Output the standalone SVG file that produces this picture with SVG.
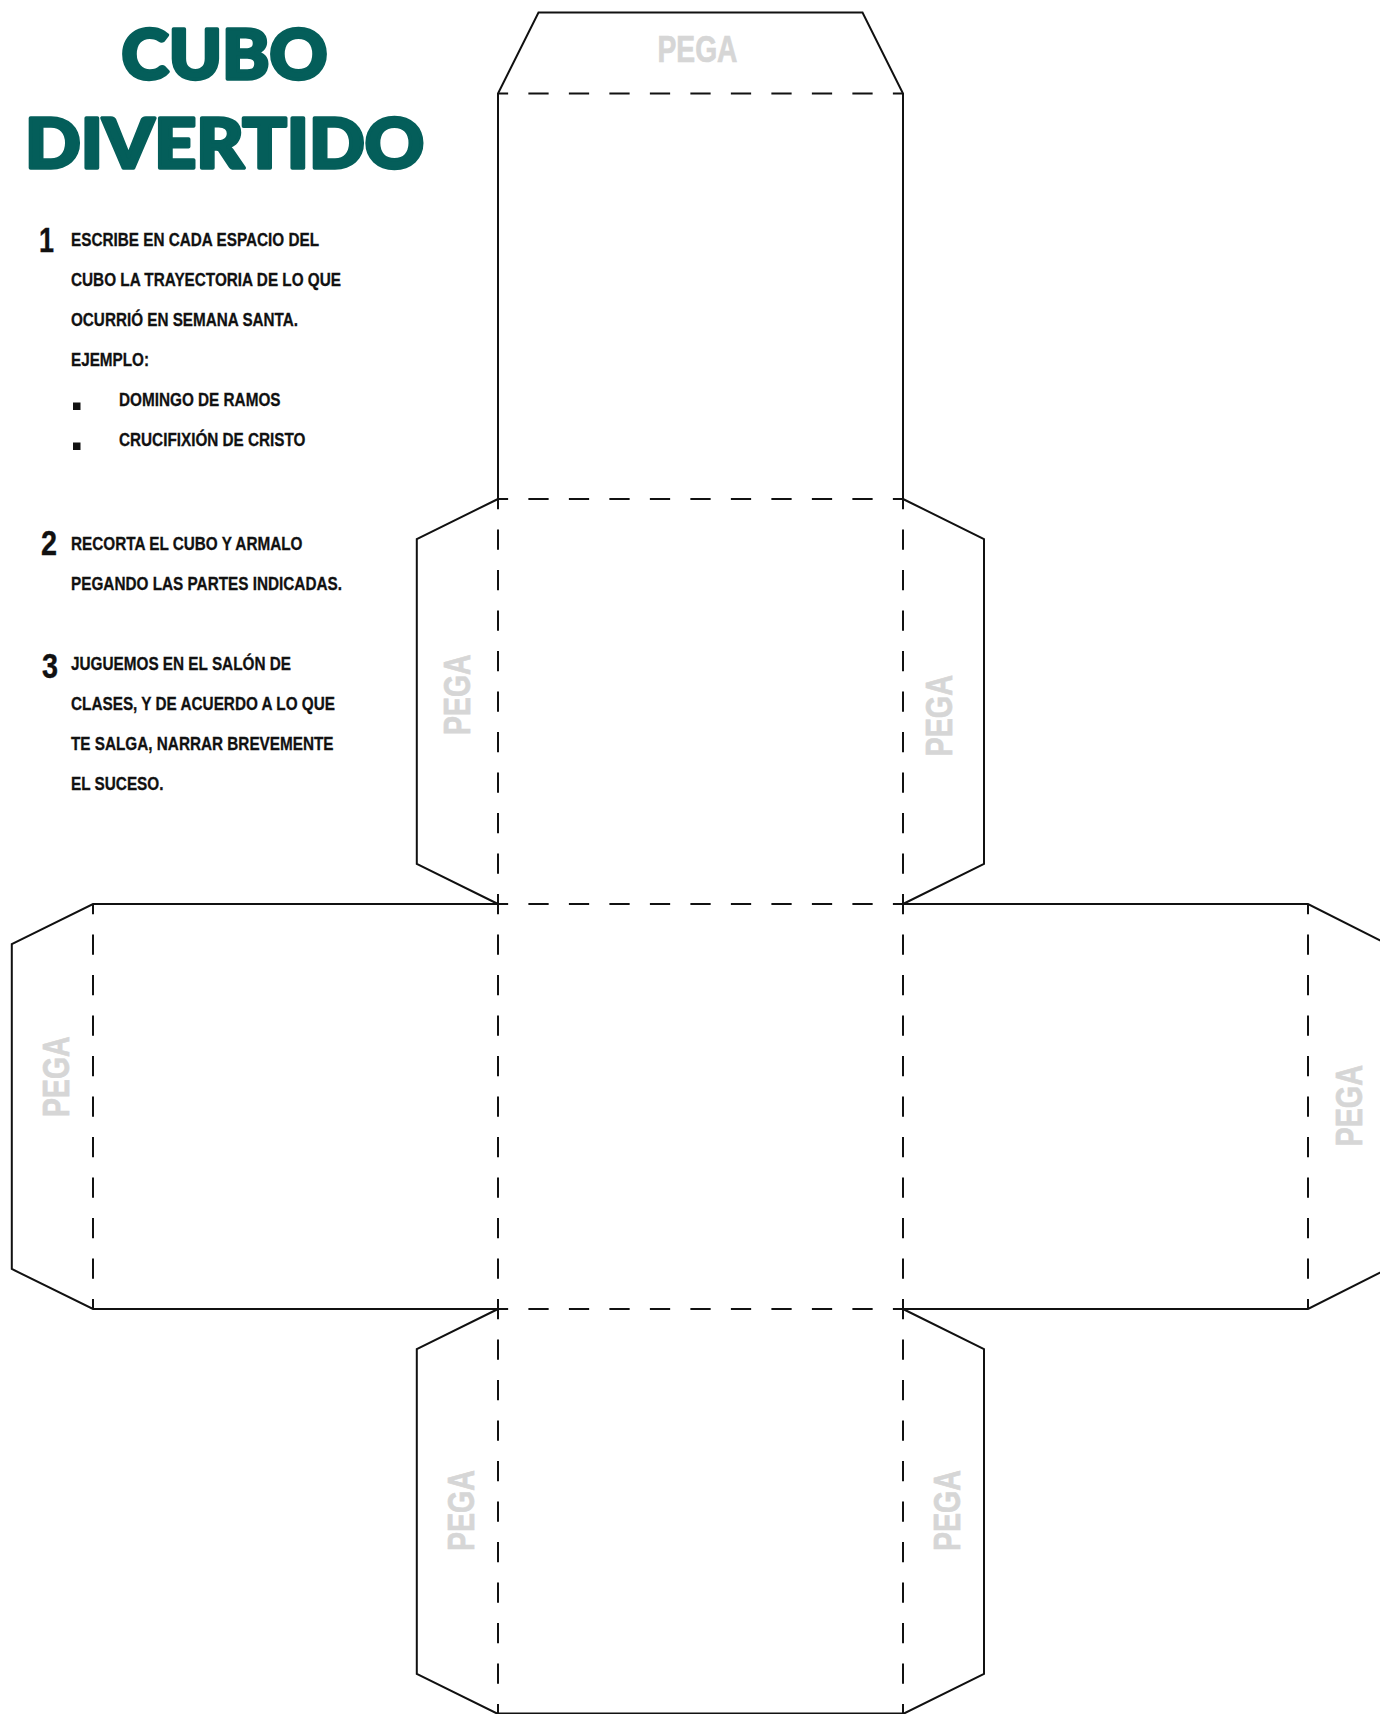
<svg xmlns="http://www.w3.org/2000/svg" width="1380" height="1714" viewBox="0 0 1380 1714">
<style>
.cut{fill:none;stroke:#111;stroke-width:2;stroke-linejoin:miter}
.fold{fill:none;stroke:#111;stroke-width:2;stroke-dasharray:20.25 20.25;stroke-dashoffset:10.125}
.title{font-family:"Lato","Inter",sans-serif;font-weight:900;font-size:68px;fill:#045e5a;stroke:#045e5a;stroke-width:3.5;stroke-linejoin:round}
.body{font-family:"Liberation Sans",Arial,sans-serif;font-weight:700;font-size:18.5px;fill:#111;stroke:#111;stroke-width:.3}
.num{font-family:"Liberation Sans",Arial,sans-serif;font-weight:700;font-size:35px;fill:#111;stroke:#111;stroke-width:.4}
.pega{font-family:"Liberation Sans",Arial,sans-serif;font-weight:700;font-size:36px;fill:#d6d6d6;stroke:#d6d6d6;stroke-width:.7}
</style>
<rect width="1380" height="1714" fill="#fff"/>
<g id="title">
<text class="title" x="121.500" y="79" textLength="206" lengthAdjust="spacingAndGlyphs">CUBO</text>
<text class="title" x="25" y="167.500" textLength="399" lengthAdjust="spacingAndGlyphs">DIVERTIDO</text>
</g>
<g id="step-1">
<text class="num" x="39" y="252" textLength="15" lengthAdjust="spacingAndGlyphs">1</text>
<text class="body" x="71" y="246" textLength="248" lengthAdjust="spacingAndGlyphs">ESCRIBE EN CADA ESPACIO DEL</text>
<text class="body" x="71" y="286" textLength="270" lengthAdjust="spacingAndGlyphs">CUBO LA TRAYECTORIA DE LO QUE</text>
<text class="body" x="71" y="326" textLength="227" lengthAdjust="spacingAndGlyphs">OCURRIÓ EN SEMANA SANTA.</text>
<text class="body" x="71" y="366" textLength="78" lengthAdjust="spacingAndGlyphs">EJEMPLO:</text>
<rect x="73" y="402.500" width="7.500" height="7.500" fill="#111"/>
<text class="body" x="119" y="406" textLength="161.500" lengthAdjust="spacingAndGlyphs">DOMINGO DE RAMOS</text>
<rect x="73" y="442.500" width="7.500" height="7.500" fill="#111"/>
<text class="body" x="119" y="446" textLength="186.500" lengthAdjust="spacingAndGlyphs">CRUCIFIXIÓN DE CRISTO</text>
</g>
<g id="step-2">
<text class="num" x="41" y="555" textLength="16" lengthAdjust="spacingAndGlyphs">2</text>
<text class="body" x="71" y="550" textLength="231.500" lengthAdjust="spacingAndGlyphs">RECORTA EL CUBO Y ARMALO</text>
<text class="body" x="71" y="590" textLength="271" lengthAdjust="spacingAndGlyphs">PEGANDO LAS PARTES INDICADAS.</text>
</g>
<g id="step-3">
<text class="num" x="42" y="678" textLength="16" lengthAdjust="spacingAndGlyphs">3</text>
<text class="body" x="71" y="670" textLength="220" lengthAdjust="spacingAndGlyphs">JUGUEMOS EN EL SALÓN DE</text>
<text class="body" x="71" y="710" textLength="264" lengthAdjust="spacingAndGlyphs">CLASES, Y DE ACUERDO A LO QUE</text>
<text class="body" x="71" y="750" textLength="262.500" lengthAdjust="spacingAndGlyphs">TE SALGA, NARRAR BREVEMENTE</text>
<text class="body" x="71" y="790" textLength="92.500" lengthAdjust="spacingAndGlyphs">EL SUCESO.</text>
</g>
<g id="net-outline">
<path class="cut" d="M498 499V93.500L538.500 12.500H862.500L903 93.500V499"/>
<path class="cut" d="M498 499L416.800 539V864L498 904"/>
<path class="cut" d="M903 499L984 539V864L903 904"/>
<path class="cut" d="M498 904H93L11.800 944V1269L93 1309H498"/>
<path class="cut" d="M903 904H1308L1389 945M1389 1268L1308 1309H903"/>
<path class="cut" d="M498 1309L416.800 1349V1674L498 1714"/>
<path class="cut" d="M903 1309L984 1349V1674L903 1714"/>
<path class="cut" d="M498 1713.500H903"/>
</g>
<g id="fold-lines">
<path class="fold" d="M498 93.500H903"/>
<path class="fold" d="M498 499H903"/>
<path class="fold" d="M487.900 904H913.100" style="stroke-dashoffset:0"/>
<path class="fold" d="M487.900 1309H913.100" style="stroke-dashoffset:0"/>
<path class="fold" d="M498 499V1714"/>
<path class="fold" d="M903 499V1714"/>
<path class="fold" d="M93 904V1309"/>
<path class="fold" d="M1308 904V1309"/>
</g>
<g id="pega-labels">
<text class="pega" x="657.500" y="62" textLength="80" lengthAdjust="spacingAndGlyphs">PEGA</text>
<text class="pega" transform="translate(470 735) rotate(-90)" textLength="80.500" lengthAdjust="spacingAndGlyphs">PEGA</text>
<text class="pega" transform="translate(951.700 756.500) rotate(-90)" textLength="81.500" lengthAdjust="spacingAndGlyphs">PEGA</text>
<text class="pega" transform="translate(69 1117) rotate(-90)" textLength="80.500" lengthAdjust="spacingAndGlyphs">PEGA</text>
<text class="pega" transform="translate(1361.700 1146.500) rotate(-90)" textLength="81.500" lengthAdjust="spacingAndGlyphs">PEGA</text>
<text class="pega" transform="translate(473.500 1551) rotate(-90)" textLength="81" lengthAdjust="spacingAndGlyphs">PEGA</text>
<text class="pega" transform="translate(960 1551) rotate(-90)" textLength="81" lengthAdjust="spacingAndGlyphs">PEGA</text>
</g>
</svg>
